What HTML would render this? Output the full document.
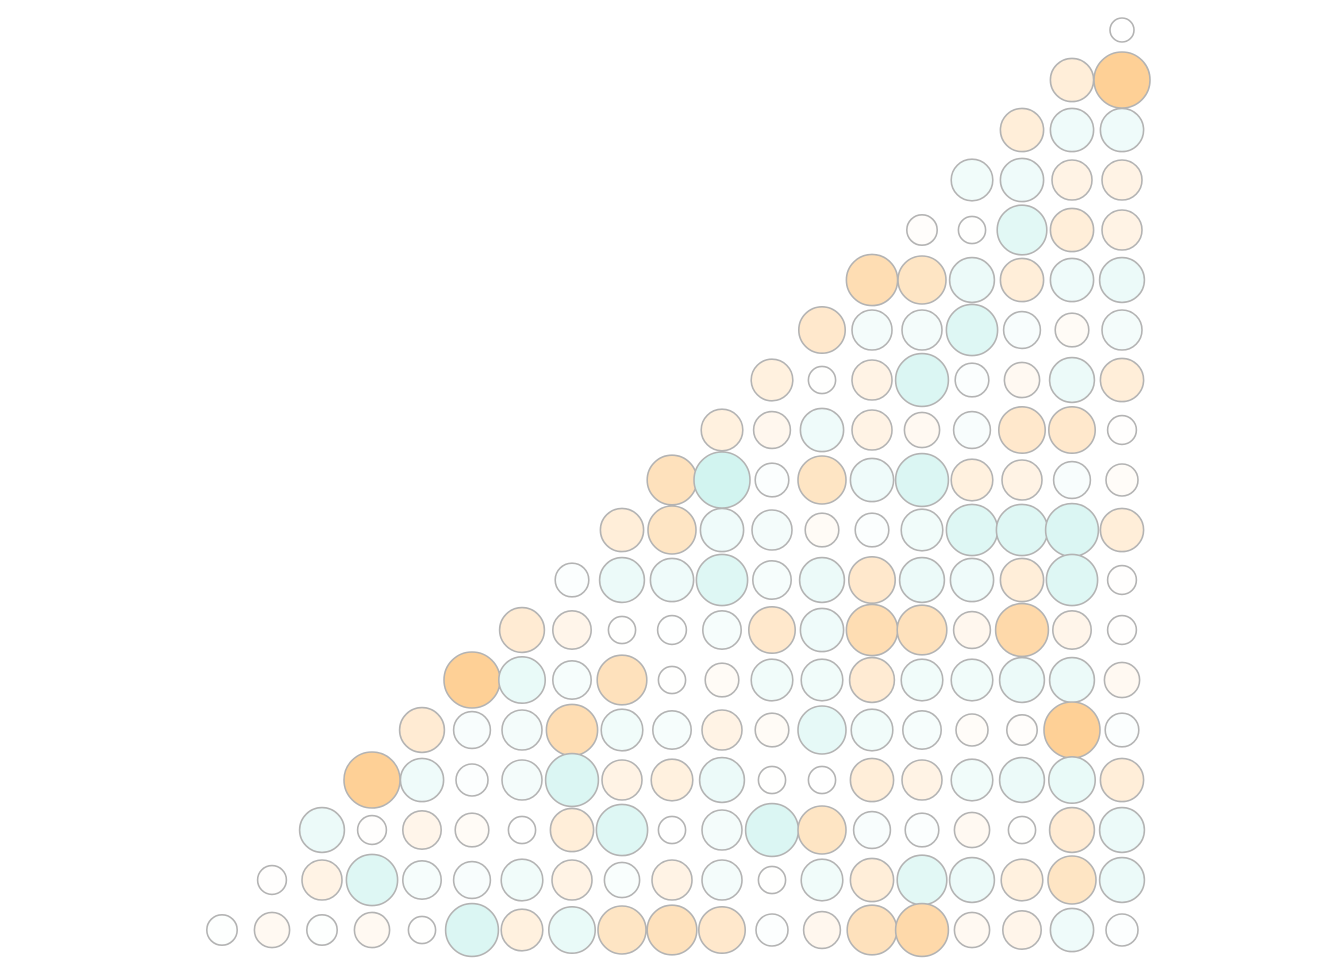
<!DOCTYPE html>
<html><head><meta charset="utf-8">
<style>html,body{margin:0;padding:0;background:#fff;}svg{display:block;}</style>
</head><body>
<svg id="chart" width="1344" height="960" viewBox="0 0 1344 960" xmlns="http://www.w3.org/2000/svg"></svg>
<script>
// Row values top to bottom; each row ends at the last column (rightmost). Positive = orange, negative = teal.
const row0=[0.0];
const row1=[0.6,1.0];
const row2=[0.6,-0.6,-0.6];
const row3=[-0.55,-0.6,0.5,0.5];
const row4=[0.2,0.1,-0.8,0.6,0.5];
const row5=[0.85,0.75,-0.65,0.6,-0.6,-0.65];
const row6=[0.7,-0.5,-0.5,-0.85,-0.4,0.3,-0.5];
const row7=[0.55,0.1,0.5,-0.9,-0.3,0.35,-0.65,0.6];
const row8=[0.55,0.4,-0.6,0.5,0.35,-0.4,0.7,0.7,0.15];
const row9=[0.8,-1.0,-0.3,0.75,-0.6,-0.9,0.55,0.5,-0.4,0.25];
const row10=[0.6,0.75,-0.6,-0.5,0.3,-0.3,-0.55,-0.85,-0.85,-0.9,0.6];
const row11=[-0.3,-0.65,-0.6,-0.85,-0.45,-0.65,0.7,-0.65,-0.6,0.6,-0.85,0.15];
const row12=[0.65,0.45,0.1,-0.15,-0.45,0.7,-0.6,0.85,0.8,0.4,0.9,0.45,0.15];
const row13=[1.0,-0.7,-0.45,0.8,0.1,0.3,-0.55,-0.55,0.65,-0.55,-0.55,-0.65,-0.65,0.35];
const row14=[0.65,-0.4,-0.5,0.85,-0.55,-0.45,0.5,0.3,-0.75,-0.55,-0.45,0.25,0.2,1.0,-0.3];
const row15=[1.0,-0.6,-0.25,-0.5,-0.9,0.5,0.55,-0.65,0.1,-0.1,0.6,0.5,-0.55,-0.65,-0.7,0.6];
const row16=[-0.65,0.15,0.45,0.3,-0.1,0.6,-0.85,-0.1,-0.5,-0.9,0.75,-0.4,-0.3,0.35,0.1,0.65,-0.65];
const row17=[0.15,0.5,-0.85,-0.45,-0.4,-0.55,0.5,-0.35,0.5,-0.5,0.1,-0.55,0.6,-0.8,-0.65,0.55,0.75,-0.65];
const row18=[-0.2,0.35,-0.2,0.35,0.1,-0.9,0.55,-0.7,0.75,0.8,0.7,-0.25,0.4,0.8,0.9,0.35,0.45,-0.6,-0.25];
const rows=[row0,row1,row2,row3,row4,row5,row6,row7,row8,row9,row10,row11,row12,row13,row14,row15,row16,row17,row18];

const N=19;
const xScale=c=>222+c*50;
const yScale=r=>30+r*50;
const rScale=v=>12+16*Math.abs(v);
function mix(a,b,t){return 'rgb('+a.map((x,i)=>Math.round(x+(b[i]-x)*t)).join(',')+')';}
const W=[255,255,255],OR=[254,208,150],TE=[210,244,240];
function color(v){const t=Math.pow(Math.min(1,Math.abs(v)),2);return v>=0?mix(W,OR,t):mix(W,TE,t);}
const svg=document.getElementById('chart');
const NS='http://www.w3.org/2000/svg';
rows.forEach((row,r)=>{
  const start=N-row.length;
  row.forEach((v,k)=>{
    const c=start+k;
    const el=document.createElementNS(NS,'circle');
    el.setAttribute('cx',xScale(c));
    el.setAttribute('cy',yScale(r));
    el.setAttribute('r',rScale(v));
    el.setAttribute('fill',color(v));
    el.setAttribute('stroke','#b3b3b3');
    el.setAttribute('stroke-width','1.6');
    
    
    svg.appendChild(el);
  });
});
</script>
</body></html>
